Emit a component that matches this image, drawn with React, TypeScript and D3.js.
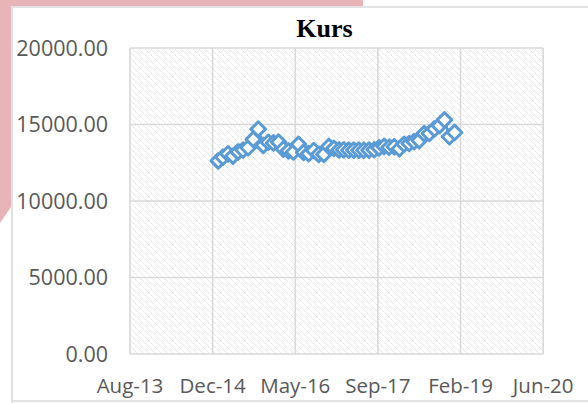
import React from "react";
import * as d3 from "d3";

const title = "Kurs";
const months: string[] = [
  "2015-01","2015-02","2015-03","2015-04","2015-05","2015-06","2015-07","2015-08","2015-09","2015-10","2015-11","2015-12",
  "2016-01","2016-02","2016-03","2016-04","2016-05","2016-06","2016-07","2016-08","2016-09","2016-10","2016-11","2016-12",
  "2017-01","2017-02","2017-03","2017-04","2017-05","2017-06","2017-07","2017-08","2017-09","2017-10","2017-11","2017-12",
  "2018-01","2018-02","2018-03","2018-04","2018-05","2018-06","2018-07","2018-08","2018-09","2018-10","2018-11","2018-12",
];
const kurs: number[] = [
  12625, 12863, 13084, 12937, 13211, 13332, 13481, 14027, 14700, 13639, 13840, 13795,
  13846, 13395, 13276, 13204, 13700, 13180, 13094, 13300, 13050, 13051, 13563, 13436,
  13343, 13347, 13321, 13327, 13321, 13319, 13323, 13351, 13472, 13572, 13514, 13548,
  13413, 13707, 13756, 13877, 13951, 14404, 14413, 14711, 14929, 15300, 14200, 14481,
];
const yTicks: number[] = [0, 5000, 10000, 15000, 20000];
const xStart = new Date(2013, 7, 15);
const xEnd = new Date(2020, 5, 18);
const xTickStepDays = 500;

const W = 588, H = 403;
const plot = { left: 130, right: 543, top: 48, bottom: 354 };

export default function App() {
  const x = d3.scaleTime().domain([xStart, xEnd]).range([plot.left, plot.right]);
  const y = d3.scaleLinear().domain([0, 20000]).range([plot.bottom, plot.top]);
  const xTicks: Date[] = d3.range(0, 6).map((i) => d3.timeDay.offset(xStart, i * xTickStepDays));
  const fmt = d3.timeFormat("%b-%y");
  const pts = months.map((m, i) => {
    const [yy, mm] = m.split("-").map(Number);
    return { d: new Date(yy, mm, 0), v: kurs[i] };
  });
  const line = d3.line<{ d: Date; v: number }>().x((p) => x(p.d)).y((p) => y(p.v));
  const sym = d3.symbol().type(d3.symbolDiamond2).size(135)();
  const grid = "#d9d9d9";

  return (
    <svg width={W} height={H} style={{ position: "absolute", left: 0, top: 0, background: "#fff" }}>
      <defs>
        <pattern id="hatch" patternUnits="userSpaceOnUse" width={6} height={6}>
          <path d="M-1,-1 L7,7 M-1,5 L1,7 M5,-1 L7,1" stroke="#dcdcdc" strokeWidth={1} strokeDasharray="2,1" />
        </pattern>
      </defs>
      <rect x={0} y={0} width={W} height={H} fill="#fff" />
      <path d={`M12,${H} L12,7 L${W},7 M12,401 L${W},401`} fill="none" stroke={grid} strokeWidth={1.5} />
      <polygon points="0,0 363,0 363,6 11,6 11,207 0,223" fill="#e8b4b7" />
      <text x={324.5} y={37} textAnchor="middle" fontFamily="'Liberation Serif', 'Times New Roman', serif" fontWeight="bold" fontSize={26} fill="#000">
        {title}
      </text>
      <rect x={plot.left} y={plot.top} width={plot.right - plot.left} height={plot.bottom - plot.top} fill="url(#hatch)" />
      {yTicks.map((t) => (
        <line key={"gy" + t} x1={plot.left} x2={plot.right} y1={y(t)} y2={y(t)} stroke={grid} strokeWidth={1.6} />
      ))}
      {xTicks.map((t, i) => (
        <line key={"gx" + i} x1={x(t)} x2={x(t)} y1={plot.top} y2={plot.bottom} stroke={grid} strokeWidth={1.6} />
      ))}
      {yTicks.map((t) => (
        <text key={"ly" + t} x={108} y={y(t)} dy="0.36em" textAnchor="end" fontFamily="'Open Sans', sans-serif" fontSize={21.5} fill="#595959">
          {t.toFixed(2)}
        </text>
      ))}
      {xTicks.map((t, i) => (
        <text key={"lx" + i} x={x(t)} y={393} textAnchor="middle" fontFamily="'Open Sans', sans-serif" fontSize={20.5} fill="#595959">
          {fmt(t)}
        </text>
      ))}
      <path d={line(pts) || ""} fill="none" stroke="#5b9bd5" strokeWidth={2.75} strokeLinejoin="round" />
      {pts.map((p, i) => (
        <path key={"m" + i} d={sym || ""} transform={`translate(${x(p.d)},${y(p.v)})`} fill="#fff" stroke="#5b9bd5" strokeWidth={3} strokeLinejoin="round" />
      ))}
    </svg>
  );
}
